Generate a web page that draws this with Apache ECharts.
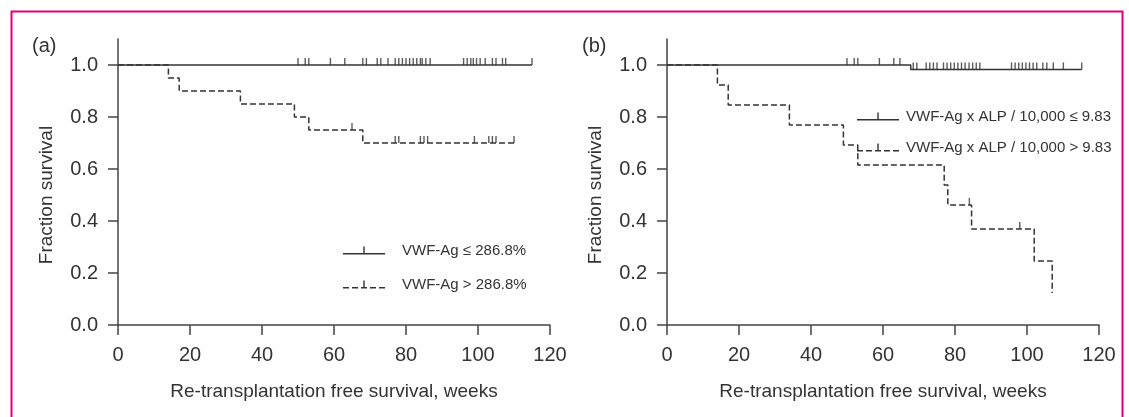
<!DOCTYPE html>
<html>
<head>
<meta charset="utf-8">
<script src="https://cdn.jsdelivr.net/npm/echarts@6/dist/echarts.min.js"></script>
<style>
  html, body { margin: 0; padding: 0; background: #fff; }
  #chart { width: 1129px; height: 417px; }
</style>
</head>
<body>
<div id="chart"></div>
<script>
// tick labels
var xTicks = [0, 20, 40, 60, 80, 100, 120];
var yTicks = [0, 0.2, 0.4, 0.6, 0.8, 1.0];

// (a) VWF-Ag <= 286.8%  (solid)
var aLowTimes = [0];
var aLowSurv = [1.0];
var aLowEnd = 115;
var aLowCensor = [50, 52, 53, 59, 63, 68, 69, 72, 73, 75, 77, 78, 79, 80, 81, 82, 83, 84, 84.5, 85.5, 86.7,
    96, 97, 98, 98.7, 99.6, 100.6, 102, 104, 105, 106.8, 107.7, 115];

// (a) VWF-Ag > 286.8%  (dashed)
var aHighTimes = [0, 14, 17, 34, 49, 53, 68];
var aHighSurv = [1.0, 0.95, 0.90, 0.85, 0.80, 0.75, 0.70];
var aHighEnd = 110;
var aHighCensor = [65, 77, 78, 84, 85, 86, 99, 103, 104, 105, 110];

// (b) VWF-Ag x ALP / 10,000 <= 9.83  (solid)
var bLowTimes = [0, 67.7];
var bLowSurv = [1.0, 0.983];
var bLowEnd = 115.2;
var bLowCensor = [50, 52, 53, 59, 63, 64.7, 68.4, 69.4, 72, 73, 74, 75, 76.8, 77.8, 78.8, 79.8, 80.8, 81.8, 82.8, 83.9, 84.9, 85.9, 86.9,
    95.7, 96.7, 97.7, 98.7, 99.7, 100.7, 101.7, 102.7, 104.4, 105.5, 107.3, 110.1, 115.2];

// (b) VWF-Ag x ALP / 10,000 > 9.83  (dashed)
var bHighTimes = [0, 14, 17, 34, 49, 53, 77, 78, 84.6, 102, 107];
var bHighSurv = [1.0, 0.923, 0.846, 0.769, 0.692, 0.615, 0.538, 0.462, 0.369, 0.246, 0.123];
var bHighEnd = 107;
var bHighCensor = [84, 98];

var nameALow = 'VWF-Ag \u2264 286.8%';
var nameAHigh = 'VWF-Ag > 286.8%';
var nameBLow = 'VWF-Ag x ALP / 10,000 \u2264 9.83';
var nameBHigh = 'VWF-Ag x ALP / 10,000 > 9.83';

var font = 'Liberation Sans, Arial, Helvetica, sans-serif';
var ink = '#333';

function stepData(times, surv, end) {
    var d = [];
    for (var i = 0; i < times.length; i++) d.push([times[i], surv[i]]);
    d.push([end, surv[surv.length - 1]]);
    return d;
}
function survAt(times, surv, t) {
    var s = surv[0];
    for (var i = 0; i < times.length; i++) {
        if (times[i] <= t) s = surv[i];
    }
    return s;
}
function censorData(times, surv, cens) {
    return cens.map(function(c) { return [c, survAt(times, surv, c)]; });
}

function curve(name, idx, times, surv, end, dashed) {
    return {
        name: name,
        type: 'line',
        step: 'end',
        xAxisIndex: idx,
        yAxisIndex: idx,
        symbol: 'none',
        lineStyle: { color: ink, width: 1.5, type: dashed ? [6, 3] : 'solid' },
        itemStyle: { color: ink },
        data: stepData(times, surv, end)
    };
}
function censors(name, idx, times, surv, cens) {
    return {
        name: name,
        type: 'scatter',
        xAxisIndex: idx,
        yAxisIndex: idx,
        symbol: 'rect',
        symbolSize: [1.4, 7],
        symbolOffset: [0, -3.5],
        itemStyle: { color: ink },
        data: censorData(times, surv, cens)
    };
}

function xAxisCfg(idx) {
    return {
        type: 'value', gridIndex: idx, min: 0, max: 120, interval: 20,
        axisLine: { onZero: false, lineStyle: { color: '#444', width: 1.5 } },
        axisTick: { length: 10, lineStyle: { color: '#444', width: 1.5 } },
        splitLine: { show: false },
        axisLabel: { fontSize: 20, margin: 20, color: '#333', fontFamily: font },
        name: 'Re-transplantation free survival, weeks',
        nameLocation: 'middle', nameGap: 57,
        nameTextStyle: { fontSize: 19, color: '#333', fontFamily: font }
    };
}
function yAxisCfg(idx) {
    return {
        type: 'value', gridIndex: idx, min: 0, max: 1.1,
        axisLine: { show: true, onZero: false, lineStyle: { color: '#444', width: 1.5 } },
        axisTick: { show: true, length: 10, customValues: yTicks, lineStyle: { color: '#444', width: 1.5 } },
        splitLine: { show: false },
        axisLabel: {
            fontSize: 20, margin: 20, color: '#333', fontFamily: font, customValues: yTicks,
            formatter: function(v) { return v.toFixed(1); }
        },
        name: 'Fraction survival',
        nameLocation: 'middle', nameGap: 62,
        nameTextStyle: { fontSize: 19, color: '#333', fontFamily: font, padding: [0, 26, 0, 0] }
    };
}

var solidIcon = 'path://M0,6.5H42V8H0Z M20.3,0H21.7V6.5H20.3Z';
var dashIcon = 'path://M0,6.5H6V8H0Z M9,6.5H15V8H9Z M18,6.5H24V8H18Z M27,6.5H33V8H27Z M36,6.5H42V8H36Z M20.3,0H21.7V6.5H20.3Z';

function legendCfg(left, top, gap, names, pad) {
    return {
        orient: 'vertical', left: left, top: top,
        itemWidth: 42, itemHeight: 8, itemGap: gap,
        selectedMode: false,
        textStyle: { fontSize: 15, color: '#333', fontFamily: font, padding: [0, 0, 0, pad] },
        itemStyle: { color: ink, borderWidth: 0 },
        data: [
            { name: names[0], icon: solidIcon },
            { name: names[1], icon: dashIcon }
        ]
    };
}

var chart = echarts.init(document.getElementById('chart'), null, { renderer: 'canvas' });
chart.setOption({
    animation: false,
    backgroundColor: '#fff',
    title: [
        { text: '(a)', left: 27, top: 31, textStyle: { fontSize: 20, fontWeight: 'normal', color: '#333', fontFamily: font } },
        { text: '(b)', left: 577, top: 31, textStyle: { fontSize: 20, fontWeight: 'normal', color: '#333', fontFamily: font } }
    ],
    grid: [
        { left: 118, top: 39, width: 432, height: 286, outerBoundsMode: 'none' },
        { left: 667, top: 39, width: 432, height: 286, outerBoundsMode: 'none' }
    ],
    xAxis: [xAxisCfg(0), xAxisCfg(1)],
    yAxis: [yAxisCfg(0), yAxisCfg(1)],
    legend: [
        legendCfg(338, 238, 19, [nameALow, nameAHigh], 12),
        legendCfg(852, 104, 16, [nameBLow, nameBHigh], 2)
    ],
    graphic: [{
        type: 'rect', left: 9, top: 9, silent: true,
        shape: { width: 1111, height: 420 },
        style: { fill: 'none', stroke: '#e2007a', lineWidth: 2 }
    }],
    series: [
        curve(nameALow, 0, aLowTimes, aLowSurv, aLowEnd, false),
        censors(nameALow, 0, aLowTimes, aLowSurv, aLowCensor),
        curve(nameAHigh, 0, aHighTimes, aHighSurv, aHighEnd, true),
        censors(nameAHigh, 0, aHighTimes, aHighSurv, aHighCensor),
        curve(nameBLow, 1, bLowTimes, bLowSurv, bLowEnd, false),
        censors(nameBLow, 1, bLowTimes, bLowSurv, bLowCensor),
        curve(nameBHigh, 1, bHighTimes, bHighSurv, bHighEnd, true),
        censors(nameBHigh, 1, bHighTimes, bHighSurv, bHighCensor)
    ]
});
</script>
</body>
</html>
